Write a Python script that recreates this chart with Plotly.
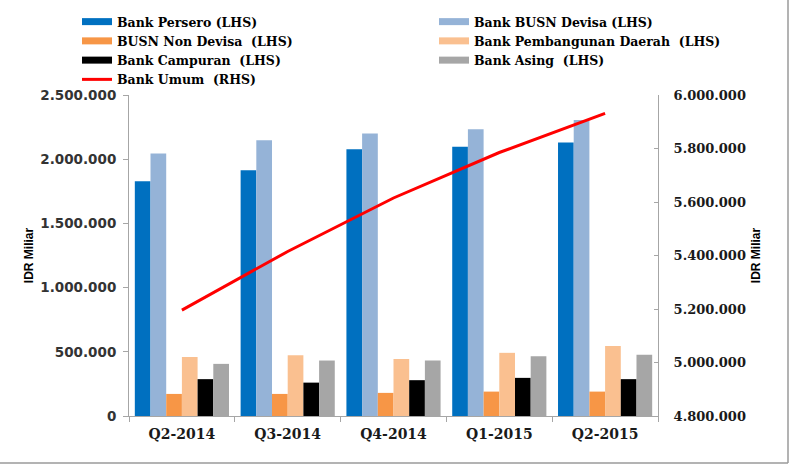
import plotly.graph_objects as go

categories = ["Q2-2014", "Q3-2014", "Q4-2014", "Q1-2015", "Q2-2015"]
bank_persero = [1828000, 1914000, 2078000, 2096000, 2130000]
bank_busn_devisa = [2045000, 2148000, 2200000, 2234000, 2305000]
busn_non_devisa = [172000, 172000, 180000, 190000, 190000]
bank_pembangunan_daerah = [459000, 474000, 443000, 492000, 545000]
bank_campuran = [287000, 260000, 279000, 297000, 287000]
bank_asing = [406000, 432000, 432000, 466000, 477000]
bank_umum = [5196000, 5415000, 5615000, 5785000, 5931000]

left_ticks = [0, 500000, 1000000, 1500000, 2000000, 2500000]
right_ticks = [4800000, 5000000, 5200000, 5400000, 5600000, 5800000, 6000000]

bar_series = [
    ("Bank Persero (LHS)", bank_persero, "#0070C0", "legend"),
    ("Bank BUSN Devisa (LHS)", bank_busn_devisa, "#95B3D7", "legend2"),
    ("BUSN Non Devisa  (LHS)", busn_non_devisa, "#F79646", "legend"),
    ("Bank Pembangunan Daerah  (LHS)", bank_pembangunan_daerah, "#FAC090", "legend2"),
    ("Bank Campuran  (LHS)", bank_campuran, "#000000", "legend"),
    ("Bank Asing  (LHS)", bank_asing, "#A6A6A6", "legend2"),
]

fig = go.Figure()
for name, vals, color, lg in bar_series:
    fig.add_trace(go.Bar(x=categories, y=vals, name=name, marker_color=color,
                         marker_line_width=0, legendgroup=name, showlegend=False,
                         yaxis="y"))
# legend swatches (wide rectangles like the reference)
for name, vals, color, lg in bar_series:
    fig.add_trace(go.Scatter(x=[None], y=[None], mode="lines", name=name,
                             line=dict(color=color, width=7), legendgroup=name,
                             legend=lg, hoverinfo="skip"))
fig.add_trace(go.Scatter(x=categories, y=bank_umum, name="Bank Umum  (RHS)",
                         mode="lines", line=dict(color="#FF0000", width=3),
                         yaxis="y2", legend="legend"))

W, H = 791, 468
ml, mr, mt, mb = 129, 133, 95, 52
pw, ph = W - ml - mr, H - mt - mb

def px(x):
    return (x - ml) / pw

def py(y):
    return (H - mb - y) / ph

legend_font = dict(family="DejaVu Serif", size=12.5, color="#000000", weight="bold")

fig.update_layout(
    width=W, height=H,
    margin=dict(l=ml, r=mr, t=mt, b=mb, autoexpand=False),
    paper_bgcolor="white", plot_bgcolor="white",
    separators=",.",
    barmode="group", bargap=0.11, bargroupgap=0,
    font=dict(family="DejaVu Sans", color="#000000"),
    legend=dict(x=px(77), y=py(7), xanchor="left", yanchor="top",
                orientation="v", font=legend_font, bgcolor="rgba(0,0,0,0)",
                tracegroupgap=0, itemclick=False),
    legend2=dict(x=px(434), y=py(7), xanchor="left", yanchor="top",
                 orientation="v", font=legend_font, bgcolor="rgba(0,0,0,0)",
                 tracegroupgap=0, itemclick=False),
    xaxis=dict(type="category", showline=True, linecolor="#A6A6A6", linewidth=1,
               ticks="outside", tickson="boundaries", ticklen=5, tickcolor="#A6A6A6",
               showgrid=False, zeroline=False, ticklabelstandoff=5,
               tickfont=dict(family="DejaVu Serif", size=14, color="#1a1a1a", weight="bold")),
    yaxis=dict(range=[0, 2500000], tickvals=left_ticks, tickformat=",d",
               showline=True, linecolor="#A6A6A6", linewidth=1, ticks="outside",
               ticklen=5, tickcolor="#A6A6A6", showgrid=False, zeroline=False,
               ticklabelstandoff=4,
               tickfont=dict(family="DejaVu Sans", size=13.5, color="#333333", weight="bold"),
               title=dict(text="IDR Miliar", standoff=4,
                          font=dict(family="Liberation Sans", size=12, color="#000", weight="bold"))),
    yaxis2=dict(range=[4800000, 6000000], tickvals=right_ticks, tickformat=",d",
                overlaying="y", side="right", anchor="x",
                showline=True, linecolor="#A6A6A6", linewidth=1, ticks="inside",
                ticklen=4, tickcolor="#A6A6A6", showgrid=False, zeroline=False,
                ticklabelstandoff=12,
                tickfont=dict(family="DejaVu Serif", size=13, color="#1a1a1a", weight="bold"),
                title=dict(text="IDR Miliar", standoff=6,
                           font=dict(family="Liberation Sans", size=12, color="#000", weight="bold"))),
    shapes=[
        dict(type="line", xref="paper", yref="paper", x0=px(788), x1=px(788),
             y0=py(0), y1=py(463), line=dict(color="#9a9a9a", width=1.5)),
        dict(type="line", xref="paper", yref="paper", x0=px(0), x1=px(788),
             y0=py(463), y1=py(463), line=dict(color="#9a9a9a", width=1.5)),
    ],
)

fig.write_html("out.html")
